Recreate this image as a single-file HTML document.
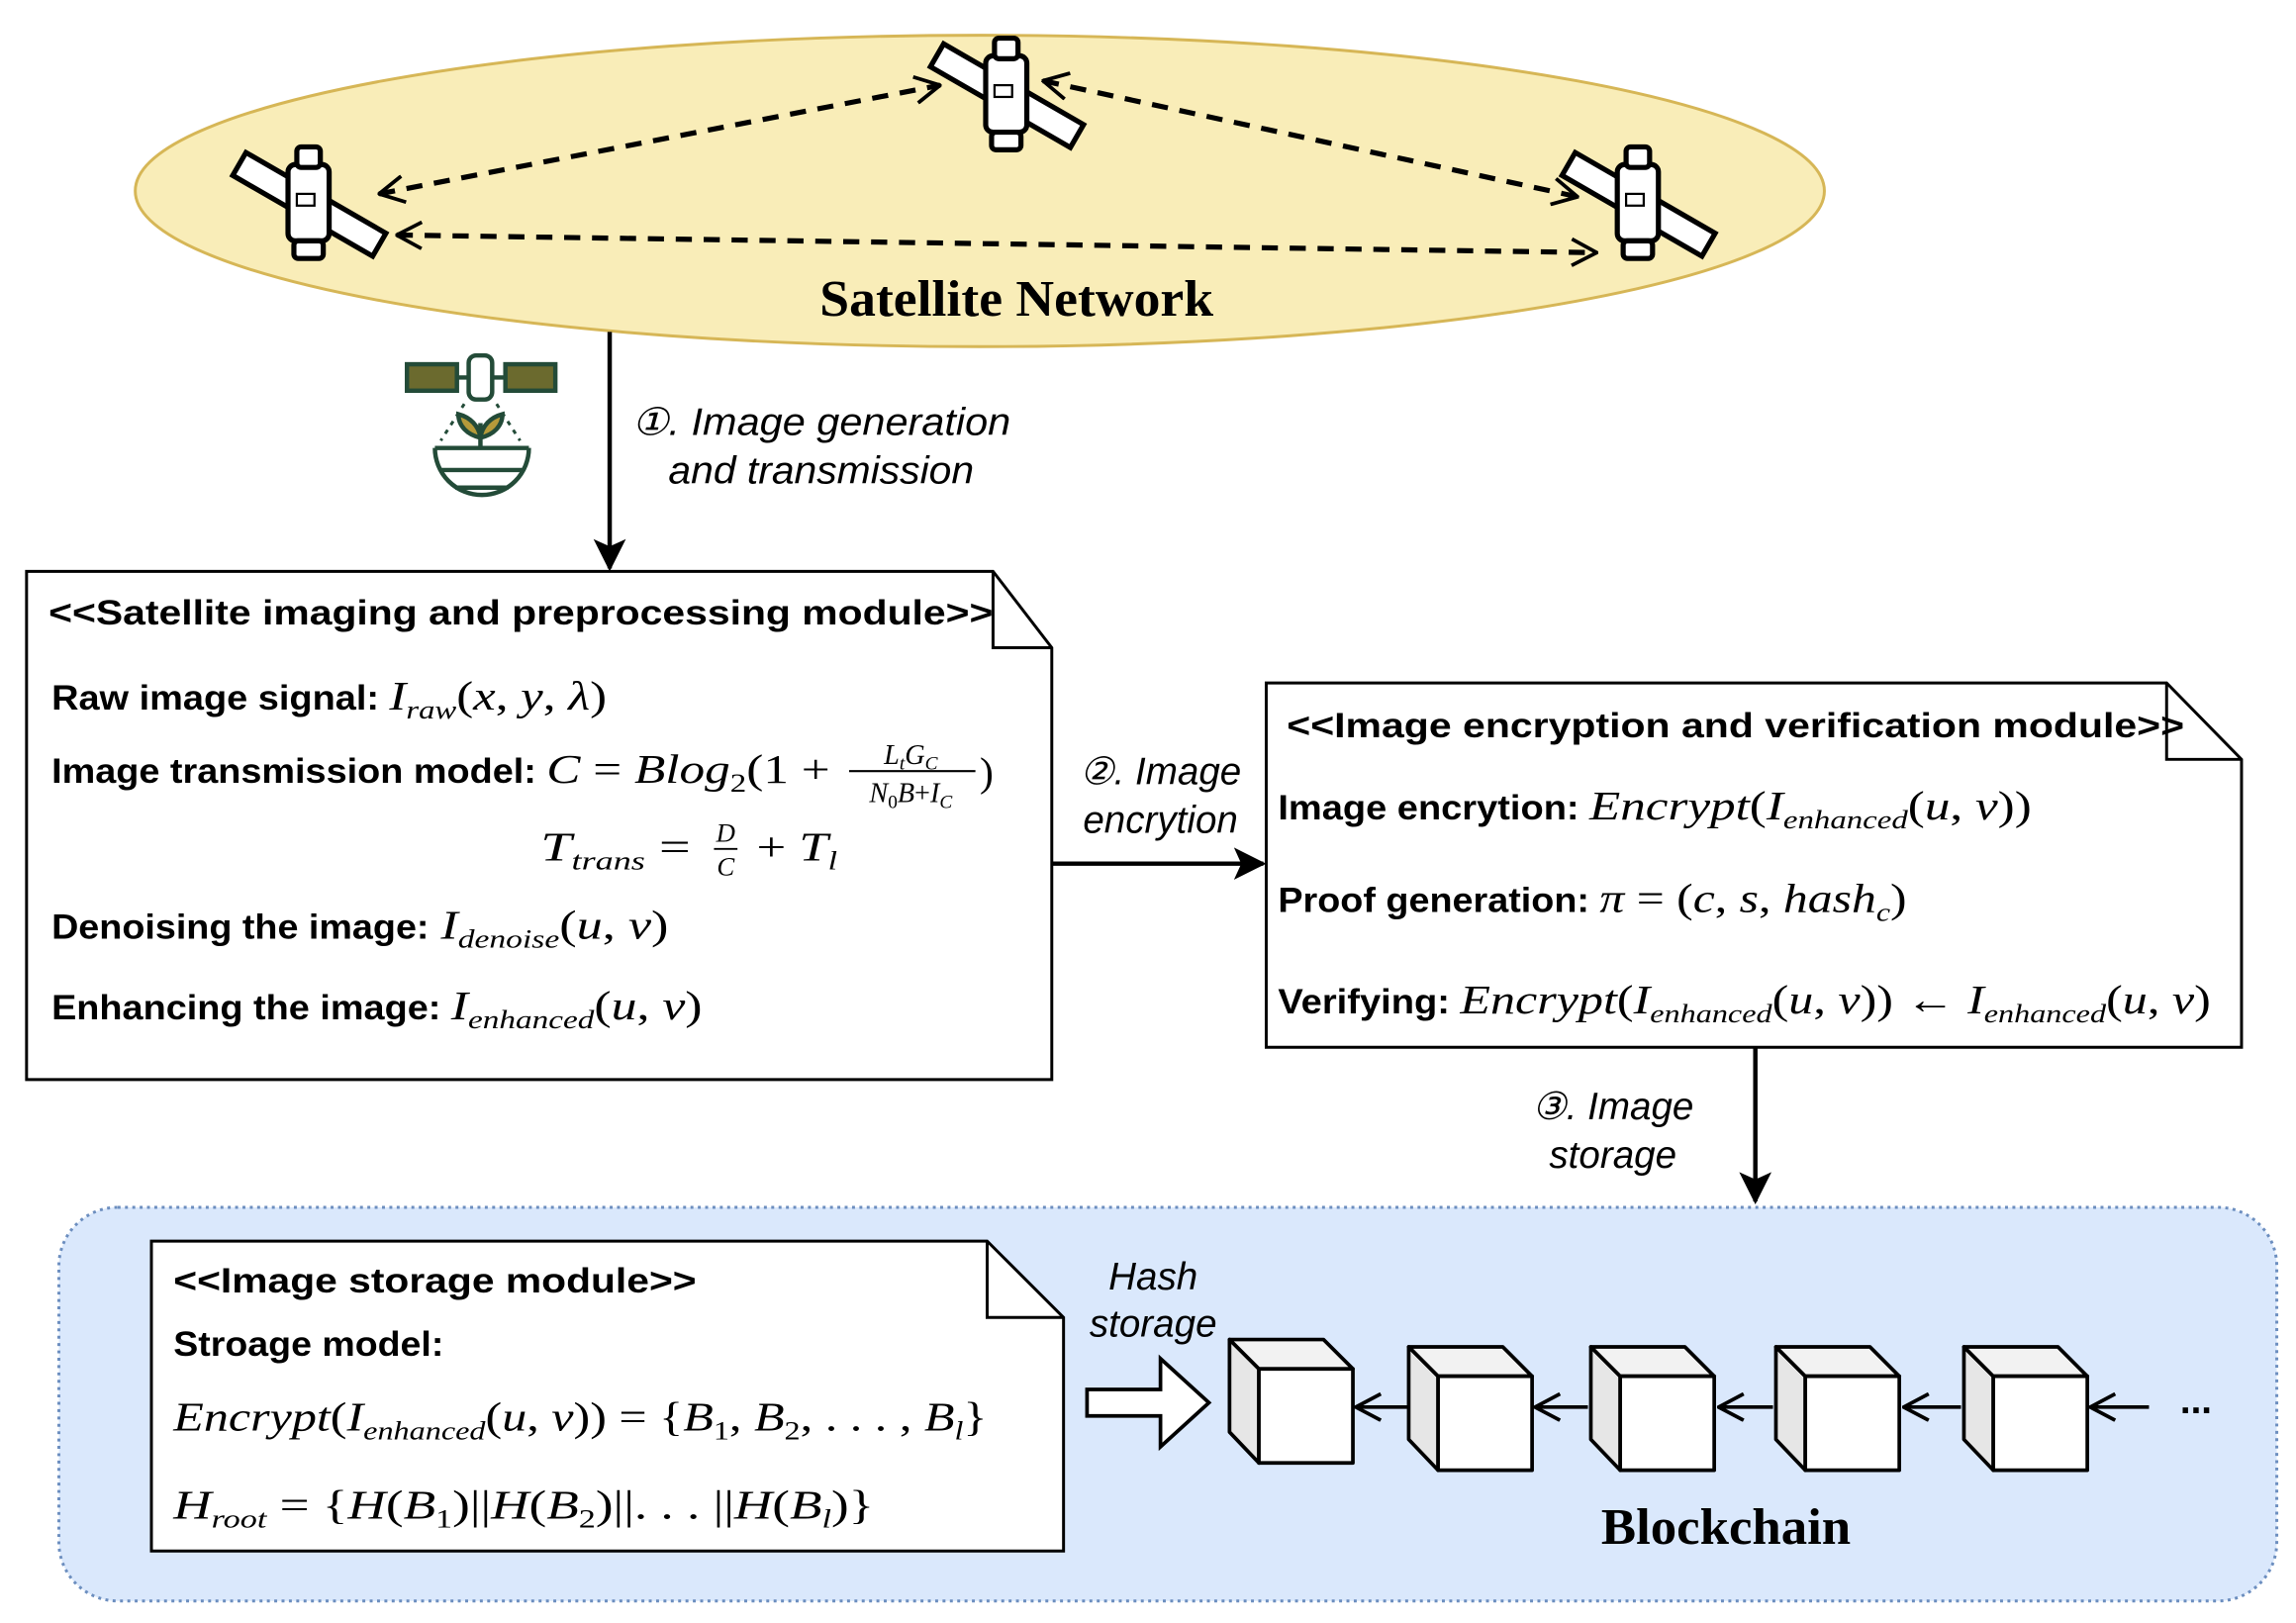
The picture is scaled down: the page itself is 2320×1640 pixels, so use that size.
<!DOCTYPE html>
<html><head><meta charset="utf-8"><style>
html,body{margin:0;padding:0;background:#fff;}
svg{display:block;}
.b{font-family:"Liberation Sans",sans-serif;font-weight:bold;font-size:24px;}
.m{font-family:"Liberation Serif",serif;font-style:italic;font-size:28px;}
.l{font-family:"Liberation Sans",sans-serif;font-style:italic;font-size:26px;}
.s{font-size:18px;}
.n{font-style:normal;}
</style></head><body>
<svg width="2320" height="1640" viewBox="0 0 1563 1105" xmlns="http://www.w3.org/2000/svg">
<defs>
<marker id="big" markerWidth="22" markerHeight="22" refX="20" refY="11" orient="auto" markerUnits="userSpaceOnUse"><path d="M0,0 L22,11 L0,22 L5,11 Z" fill="#000"/></marker>
<marker id="op" markerWidth="20" markerHeight="20" refX="19" refY="10" orient="auto-start-reverse" markerUnits="userSpaceOnUse"><path d="M2,1 L19,10 L2,19" fill="none" stroke="#000" stroke-width="2.5" stroke-dasharray="none"/></marker>
<g id="sat">
<rect x="-55" y="-10" width="110" height="18" fill="#fff" stroke="#000" stroke-width="3.5" transform="rotate(30)"/>
<rect x="-14" y="-28" width="28" height="52" rx="5" fill="#fff" stroke="#000" stroke-width="3.5"/>
<rect x="-8" y="-40" width="16" height="14" rx="3" fill="#fff" stroke="#000" stroke-width="3.5"/>
<rect x="-10" y="24" width="20" height="12" rx="3" fill="#fff" stroke="#000" stroke-width="3.5"/>
<rect x="-8" y="-8" width="12" height="8" fill="none" stroke="#000" stroke-width="1.5"/>
</g>
</defs>

<ellipse cx="667" cy="130" rx="575" ry="106" fill="#f9edb8" stroke="#d6b656" stroke-width="2"/>
<g stroke="#000" stroke-width="3.5" fill="none">
<line x1="258" y1="132" x2="640" y2="58" stroke-dasharray="11,8" marker-start="url(#op)" marker-end="url(#op)"/>
<line x1="710" y1="55" x2="1074" y2="134" stroke-dasharray="11,8" marker-start="url(#op)" marker-end="url(#op)"/>
<line x1="270" y1="160" x2="1087" y2="172" stroke-dasharray="11,8" marker-start="url(#op)" marker-end="url(#op)"/>
</g>
<use href="#sat" x="210" y="140"/>
<use href="#sat" x="685" y="66"/>
<use href="#sat" x="1115" y="140"/>
<text x="692" y="215" text-anchor="middle" font-family="Liberation Serif,serif" font-weight="bold" font-size="35" textLength="268" lengthAdjust="spacingAndGlyphs">Satellite Network</text>

<line x1="415" y1="226" x2="415" y2="387" stroke="#000" stroke-width="3" marker-end="url(#big)"/>
<text class="l" x="430" y="296" textLength="258" lengthAdjust="spacingAndGlyphs">①. Image generation</text>
<text class="l" x="455" y="329" textLength="208" lengthAdjust="spacingAndGlyphs">and transmission</text>
<g stroke="#234b38" stroke-width="3" fill="none">
<rect x="277" y="248" width="34" height="18" fill="#6b6a2e"/>
<rect x="344" y="248" width="34" height="18" fill="#6b6a2e"/>
<line x1="311" y1="257" x2="344" y2="257"/>
<rect x="319" y="242" width="16" height="30" rx="5" fill="#fff"/>
<path d="M296,305 A32,32 0 1 0 360,305"/>
<line x1="296" y1="305" x2="360" y2="305"/>
<line x1="300" y1="320" x2="356" y2="320"/>
<line x1="310" y1="332" x2="346" y2="332"/>
<path d="M327,305 L327,288 M327,298 C318,296 312,290 312,282 C320,284 326,290 327,298 M327,298 C336,296 342,290 342,282 C334,284 328,290 327,298" fill="#b59a3a"/>
<path d="M316,275 L300,300 M338,275 L354,300" stroke-dasharray="3,4" stroke-width="2"/>
</g>

<!-- Box 1 -->
<path d="M18,389 H676 L716,441 V735 H18 Z" fill="#fff" stroke="#000" stroke-width="2"/>
<path d="M676,389 V441 H716" fill="none" stroke="#000" stroke-width="2"/>
<text class="b" x="33" y="425" textLength="643" lengthAdjust="spacingAndGlyphs">&lt;&lt;Satellite imaging and preprocessing module&gt;&gt;</text>
<text class="b" x="35" y="483" textLength="223" lengthAdjust="spacingAndGlyphs">Raw image signal:</text>
<text class="m" x="265" y="483" textLength="148" lengthAdjust="spacingAndGlyphs">I<tspan class="s" dy="6">raw</tspan><tspan class="n" dy="-6">(</tspan>x<tspan class="n">, </tspan>y<tspan class="n">, </tspan>λ<tspan class="n">)</tspan></text>
<text class="b" x="35" y="533" textLength="330" lengthAdjust="spacingAndGlyphs">Image transmission model:</text>
<text class="m" x="372" y="533" textLength="193" lengthAdjust="spacingAndGlyphs">C<tspan class="n"> = </tspan>Blog<tspan class="s n" dy="6">2</tspan><tspan class="n" dy="-6">(1 + </tspan></text>
<text class="m" x="620" y="520" style="font-size:19px" text-anchor="middle">L<tspan style="font-size:13px" dy="4">t</tspan><tspan dy="-4">G</tspan><tspan style="font-size:13px" dy="4">C</tspan></text>
<line x1="578" y1="525" x2="664" y2="525" stroke="#000" stroke-width="1.5"/>
<text class="m" x="620" y="546" style="font-size:19px" text-anchor="middle">N<tspan class="n" style="font-size:13px" dy="4">0</tspan><tspan dy="-4">B</tspan><tspan class="n">+</tspan>I<tspan style="font-size:13px" dy="4">C</tspan></text>
<text class="m n" x="667" y="535">)</text>
<text class="m" x="368" y="586" textLength="102" lengthAdjust="spacingAndGlyphs">T<tspan class="s" dy="6">trans</tspan><tspan class="n" dy="-6"> =</tspan></text>
<text class="m" x="494" y="573" style="font-size:18px" text-anchor="middle">D</text>
<line x1="486" y1="578" x2="502" y2="578" stroke="#000" stroke-width="1.3"/>
<text class="m" x="494" y="596" style="font-size:18px" text-anchor="middle">C</text>
<text class="m" x="515" y="586" textLength="55" lengthAdjust="spacingAndGlyphs"><tspan class="n">+ </tspan>T<tspan class="s" dy="6">l</tspan></text>
<text class="b" x="35" y="639" textLength="257" lengthAdjust="spacingAndGlyphs">Denoising the image:</text>
<text class="m" x="300" y="639" textLength="155" lengthAdjust="spacingAndGlyphs">I<tspan class="s" dy="6">denoise</tspan><tspan class="n" dy="-6">(</tspan>u<tspan class="n">, </tspan>v<tspan class="n">)</tspan></text>
<text class="b" x="35" y="694" textLength="265" lengthAdjust="spacingAndGlyphs">Enhancing the image:</text>
<text class="m" x="307" y="694" textLength="171" lengthAdjust="spacingAndGlyphs">I<tspan class="s" dy="6">enhanced</tspan><tspan class="n" dy="-6">(</tspan>u<tspan class="n">, </tspan>v<tspan class="n">)</tspan></text>

<line x1="716" y1="588" x2="860" y2="588" stroke="#000" stroke-width="3" marker-end="url(#big)"/>
<text class="l" x="790" y="534" text-anchor="middle">②. Image</text>
<text class="l" x="790" y="567" text-anchor="middle">encrytion</text>

<!-- Box 2 -->
<path d="M862,465 H1475 L1526,517 V713 H862 Z" fill="#fff" stroke="#000" stroke-width="2"/>
<path d="M1475,465 V517 H1526" fill="none" stroke="#000" stroke-width="2"/>
<text class="b" x="876" y="502" textLength="611" lengthAdjust="spacingAndGlyphs">&lt;&lt;Image encryption and verification module&gt;&gt;</text>
<text class="b" x="870" y="558" textLength="205" lengthAdjust="spacingAndGlyphs">Image encrytion:</text>
<text class="m" x="1082" y="558" textLength="301" lengthAdjust="spacingAndGlyphs">Encrypt<tspan class="n">(</tspan>I<tspan class="s" dy="6">enhanced</tspan><tspan class="n" dy="-6">(</tspan>u<tspan class="n">, </tspan>v<tspan class="n">))</tspan></text>
<text class="b" x="870" y="621" textLength="212" lengthAdjust="spacingAndGlyphs">Proof generation:</text>
<text class="m" x="1089" y="621" textLength="209" lengthAdjust="spacingAndGlyphs">π<tspan class="n"> = (</tspan>c<tspan class="n">, </tspan>s<tspan class="n">, </tspan>hash<tspan class="s" dy="6">c</tspan><tspan class="n" dy="-6">)</tspan></text>
<text class="b" x="870" y="690" textLength="117" lengthAdjust="spacingAndGlyphs">Verifying:</text>
<text class="m" x="994" y="690" textLength="511" lengthAdjust="spacingAndGlyphs">Encrypt<tspan class="n">(</tspan>I<tspan class="s" dy="6">enhanced</tspan><tspan class="n" dy="-6">(</tspan>u<tspan class="n">, </tspan>v<tspan class="n">)) ← </tspan>I<tspan class="s" dy="6">enhanced</tspan><tspan class="n" dy="-6">(</tspan>u<tspan class="n">, </tspan>v<tspan class="n">)</tspan></text>

<line x1="1195" y1="713" x2="1195" y2="818" stroke="#000" stroke-width="3" marker-end="url(#big)"/>
<text class="l" x="1098" y="762" text-anchor="middle">③. Image</text>
<text class="l" x="1098" y="795" text-anchor="middle">storage</text>

<rect x="40" y="822" width="1510" height="268" rx="40" fill="#dae8fc" stroke="#6c8ebf" stroke-width="2" stroke-dasharray="2,3"/>

<!-- Box 3 -->
<path d="M103,845 H672 L724,897 V1056 H103 Z" fill="#fff" stroke="#000" stroke-width="2"/>
<path d="M672,845 V897 H724" fill="none" stroke="#000" stroke-width="2"/>
<text class="b" x="118" y="880" textLength="356" lengthAdjust="spacingAndGlyphs">&lt;&lt;Image storage module&gt;&gt;</text>
<text class="b" x="118" y="923" textLength="184" lengthAdjust="spacingAndGlyphs">Stroage model:</text>
<text class="m" x="118" y="974" textLength="554" lengthAdjust="spacingAndGlyphs">Encrypt<tspan class="n">(</tspan>I<tspan class="s" dy="6">enhanced</tspan><tspan class="n" dy="-6">(</tspan>u<tspan class="n">, </tspan>v<tspan class="n">)) = {</tspan>B<tspan class="s n" dy="6">1</tspan><tspan class="n" dy="-6">, </tspan>B<tspan class="s n" dy="6">2</tspan><tspan class="n" dy="-6">, . . . , </tspan>B<tspan class="s" dy="6">l</tspan><tspan class="n" dy="-6">}</tspan></text>
<text class="m" x="118" y="1034" textLength="477" lengthAdjust="spacingAndGlyphs">H<tspan class="s" dy="6">root</tspan><tspan class="n" dy="-6"> = {</tspan>H<tspan class="n">(</tspan>B<tspan class="s n" dy="6">1</tspan><tspan class="n" dy="-6">)||</tspan>H<tspan class="n">(</tspan>B<tspan class="s n" dy="6">2</tspan><tspan class="n" dy="-6">)||. . . ||</tspan>H<tspan class="n">(</tspan>B<tspan class="s" dy="6">l</tspan><tspan class="n" dy="-6">)}</tspan></text>

<text class="l" x="785" y="878" text-anchor="middle">Hash</text>
<text class="l" x="785" y="910" text-anchor="middle">storage</text>
<path d="M740,946 H790 V925 L823,955 L790,985 V964 H740 Z" fill="#fff" stroke="#000" stroke-width="2.5"/>

<g stroke="#000" stroke-width="2.5" stroke-linejoin="round">
<g id="cube">
<path d="M857,932 L837,912 L837,975 L857,996 Z" fill="#e6e6e6"/>
<path d="M837,912 L901,912 L921,932 L857,932 Z" fill="#f2f2f2"/>
<rect x="857" y="932" width="64" height="64" fill="#fff"/>
</g>
<use href="#cube" x="122" y="5"/>
<use href="#cube" x="246" y="5"/>
<use href="#cube" x="372" y="5"/>
<use href="#cube" x="500" y="5"/>
</g>
<g stroke="#000" stroke-width="2.5" fill="none">
<line x1="958" y1="958" x2="923" y2="958" marker-end="url(#op)"/>
<line x1="1081" y1="958" x2="1045" y2="958" marker-end="url(#op)"/>
<line x1="1207" y1="958" x2="1170" y2="958" marker-end="url(#op)"/>
<line x1="1335" y1="958" x2="1296" y2="958" marker-end="url(#op)"/>
<line x1="1463" y1="958" x2="1423" y2="958" marker-end="url(#op)"/>
</g>
<text x="1495" y="962" text-anchor="middle" font-family="Liberation Sans,sans-serif" font-weight="bold" font-size="26">...</text>
<text x="1175" y="1051" text-anchor="middle" font-family="Liberation Serif,serif" font-weight="bold" font-size="35" textLength="170" lengthAdjust="spacingAndGlyphs">Blockchain</text>
</svg>
</body></html>
